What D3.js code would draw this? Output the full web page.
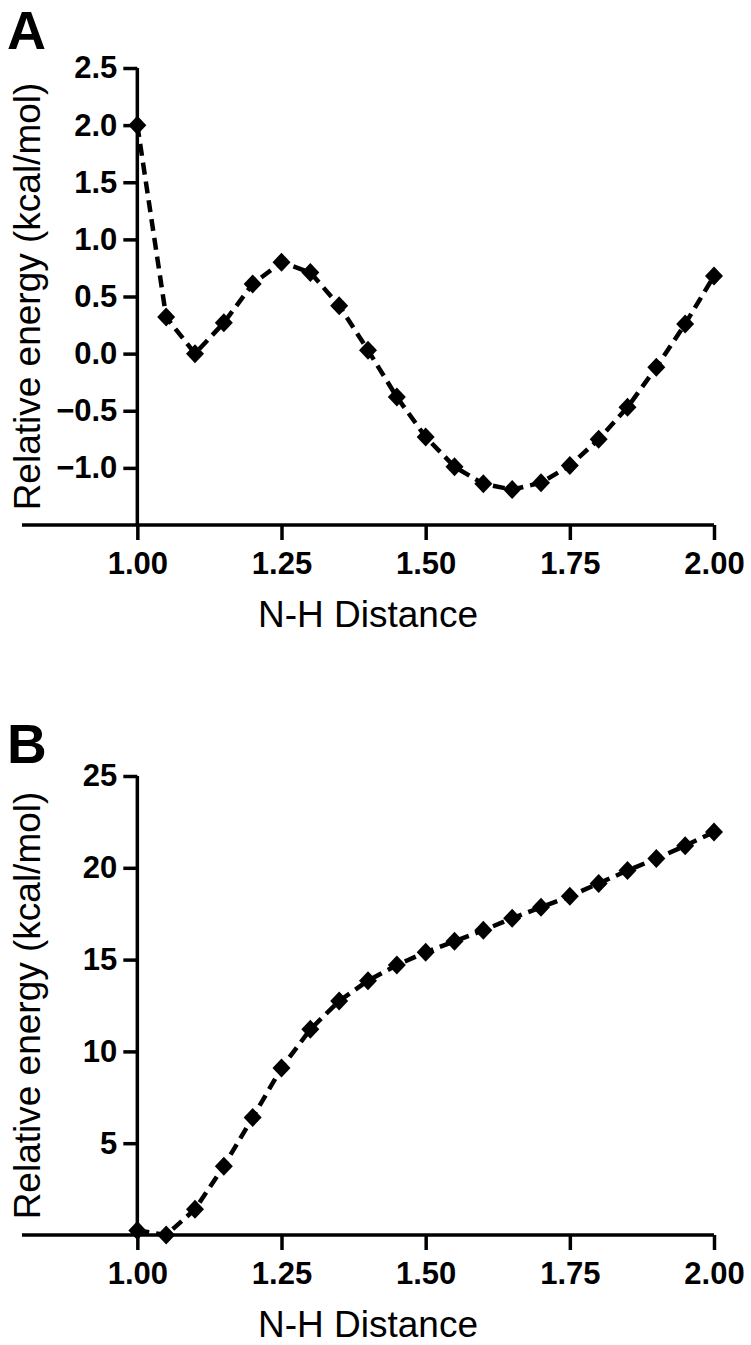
<!DOCTYPE html>
<html><head><meta charset="utf-8">
<script src="https://cdn.jsdelivr.net/npm/d3@7"></script>
<style>body{margin:0;background:#fff}svg{display:block}text{font-family:Arial,"Liberation Sans",sans-serif}</style>
</head><body>
<script>
const distances = [1.00,1.05,1.10,1.15,1.20,1.25,1.30,1.35,1.40,1.45,1.50,1.55,1.60,1.65,1.70,1.75,1.80,1.85,1.90,1.95,2.00];
const energyA = [2.00,0.32,0.00,0.27,0.61,0.80,0.71,0.42,0.03,-0.38,-0.73,-0.99,-1.14,-1.19,-1.13,-0.98,-0.75,-0.47,-0.12,0.26,0.68];
const energyB = [0.25,0.00,1.40,3.75,6.40,9.10,11.20,12.75,13.85,14.70,15.40,16.00,16.60,17.25,17.85,18.45,19.15,19.85,20.50,21.20,21.95];
const xTicks = [1.00,1.25,1.50,1.75,2.00];
const yTicksA = [-1.0,-0.5,0.0,0.5,1.0,1.5,2.0,2.5];
const yTicksB = [5,10,15,20,25];
const xTitle = "N-H Distance";
const yTitle = "Relative energy (kcal/mol)";

const W = 751, H = 1345;
const svg = d3.select("body").append("svg").attr("width", W).attr("height", H);

const diamond = "M0,-9.5L9,0L0,9.5L-9,0Z";

function panel(label, labelY, labelSize, values, yDomain, yTop, yBottom, yTicks, yFmt) {
  const g = svg.append("g");
  const x = d3.scaleLinear().domain([0.8, 2.0]).range([22, 714]);
  const y = d3.scaleLinear().domain(yDomain).range([yBottom, yTop]);
  const x0 = x(1.0);

  g.append("text").attr("x", 7).attr("y", labelY).attr("font-size", labelSize)
    .attr("font-weight", "bold").text(label);

  const xa = g.append("g").attr("transform", `translate(0,${yBottom})`)
    .call(d3.axisBottom(x).tickValues(xTicks).tickFormat(d3.format(".2f")).tickSize(15).tickPadding(12));
  xa.select(".domain").attr("stroke-width", 3.5).attr("d", `M${x.range()[0]},0H${x.range()[1]}`);
  xa.selectAll(".tick line").attr("stroke-width", 3.5);
  xa.selectAll(".tick text").attr("font-size", 31).attr("font-weight", "bold")
    .attr("font-family", "Arial, 'Liberation Sans', sans-serif").attr("fill", "#000");

  const ya = g.append("g").attr("transform", `translate(${x0},0)`)
    .call(d3.axisLeft(y).tickValues(yTicks).tickFormat(yFmt).tickSize(14).tickPadding(6));
  ya.select(".domain").attr("stroke-width", 3.5).attr("d", `M0,${yTop}V${yBottom}`);
  ya.selectAll(".tick line").attr("stroke-width", 3.5);
  ya.selectAll(".tick text").attr("font-size", 31).attr("font-weight", "bold")
    .attr("font-family", "Arial, 'Liberation Sans', sans-serif").attr("fill", "#000");

  g.append("text").attr("x", (x.range()[0] + x.range()[1]) / 2).attr("y", yBottom + 102)
    .attr("text-anchor", "middle").attr("font-size", 37).text(xTitle);
  g.append("text").attr("transform", `translate(40,${(yTop + yBottom) / 2}) rotate(-90)`)
    .attr("text-anchor", "middle").attr("font-size", 37).text(yTitle);

  const pts = distances.map((d, i) => [d, values[i]]);
  g.append("path").datum(pts)
    .attr("d", d3.line().x(d => x(d[0])).y(d => y(d[1])))
    .attr("fill", "none").attr("stroke", "#000").attr("stroke-width", 4.5)
    .attr("stroke-dasharray", "12,7");
  g.selectAll("path.pt").data(pts).enter().append("path").attr("class", "pt")
    .attr("transform", d => `translate(${x(d[0])},${y(d[1])})`)
    .attr("d", diamond).attr("fill", "#000");
}

panel("A", 49, 54, energyA, [-1.5, 2.5], 68, 525, yTicksA, d3.format(".1f"));
panel("B", 763, 55, energyB, [0, 25], 776, 1235, yTicksB, d3.format("d"));
</script>
</body></html>
